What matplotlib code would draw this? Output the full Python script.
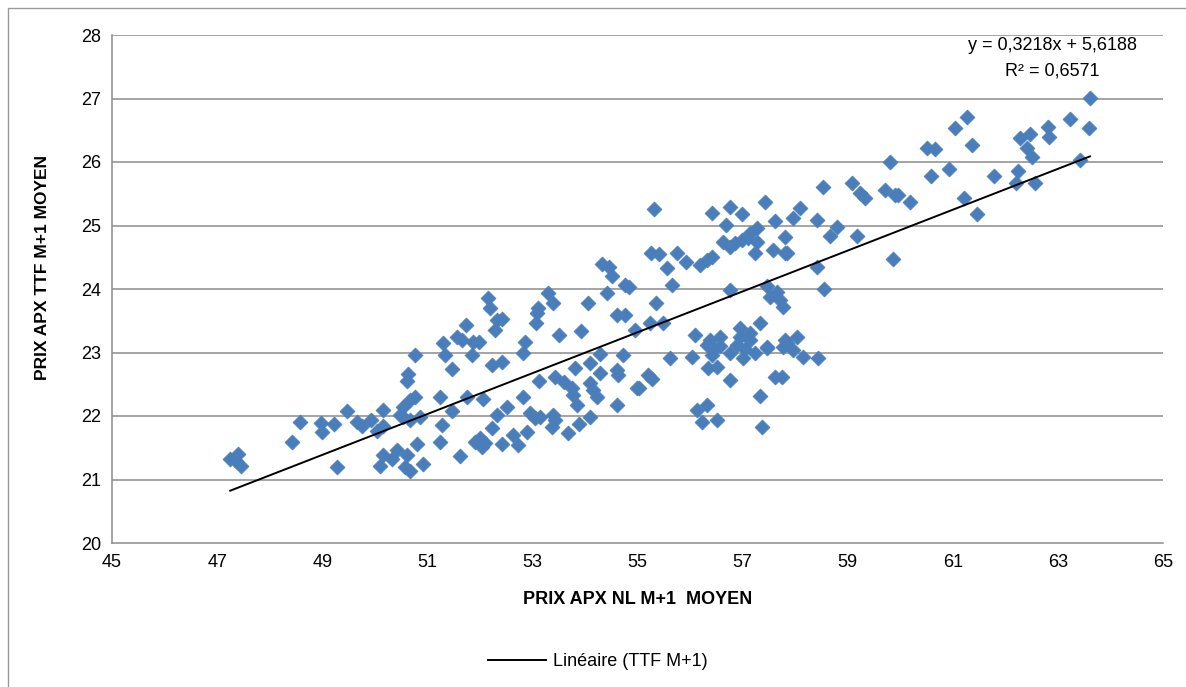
import numpy as np
import matplotlib.pyplot as plt
from matplotlib.lines import Line2D
from matplotlib.patches import Rectangle

import matplotlib as mpl
mpl.rcParams['font.family'] = ['Liberation Sans', 'DejaVu Sans']

# PRIX APX NL M+1 MOYEN (x) / PRIX APX TTF M+1 MOYEN (y)
apx_nl = [
	47.25, 47.35, 47.40, 47.45, 48.43, 48.58, 48.98, 49.00, 49.22, 49.28, 49.47,
	49.66, 49.76, 49.93, 50.04, 50.16, 50.16, 50.16, 50.10, 50.33, 50.42, 50.61,
	50.58, 50.67, 50.80, 50.92, 50.54, 50.67, 50.77, 50.54, 50.86, 50.67, 50.61,
	50.63, 50.77, 50.48,
	52.15, 52.19, 52.33, 52.42, 52.29, 51.74, 51.57, 51.66, 51.30, 51.34, 51.87,
	51.98, 51.85, 51.47, 52.23, 52.42, 52.82, 52.86, 53.09, 53.11, 53.30, 53.39,
	53.07, 53.51, 53.92, 54.06, 54.42, 54.76, 54.84, 54.61, 54.76, 54.95, 54.29,
	54.72, 54.61, 54.63, 54.99, 53.81, 54.10, 54.29, 53.13, 53.43, 53.60, 53.75,
	53.77, 53.85, 54.10, 54.15, 54.23, 54.10, 53.89, 54.61, 53.68, 53.39, 53.37,
	53.43, 52.95, 53.05, 53.14, 52.90, 52.82, 52.52, 52.33, 51.76, 52.06, 51.24,
	51.47, 51.28, 51.24, 51.91, 52.00, 52.10, 52.04, 52.23, 52.42, 52.63, 52.73,
	51.62, 54.32, 54.45, 54.51,
	55.31, 56.42, 56.76, 56.99, 57.43, 57.62, 57.81, 56.68, 55.26, 55.41, 55.75,
	55.92, 55.56, 55.66, 56.19, 56.32, 56.42, 56.63, 56.76, 56.86, 56.99, 57.14,
	57.27, 57.10, 57.27, 57.24, 57.58, 57.81, 56.76, 57.46, 57.65, 57.71, 57.77,
	57.52, 55.35, 55.24, 55.49, 56.09, 56.38, 56.57, 56.95, 57.14, 57.33, 57.46,
	57.81, 55.62, 56.04, 56.32, 56.42, 56.34, 56.51, 56.76, 56.89, 57.01, 57.24,
	57.46, 57.77, 56.76, 55.20, 55.28, 55.03, 56.13, 56.32, 56.23, 56.51, 57.33,
	57.37, 57.62, 57.75, 56.57, 56.95, 57.05, 57.15, 56.45,
	59.80, 58.53, 59.08, 59.23, 59.33, 59.71, 59.90, 58.09, 57.96, 58.42, 58.80,
	58.66, 59.18, 57.85, 58.42, 59.86, 58.55, 57.85, 58.04, 57.96, 58.15, 58.43,
	63.61, 63.23, 63.59, 61.27, 61.04, 61.36, 60.51, 60.66, 62.81, 62.83, 62.28,
	62.47, 62.41, 62.51, 63.42, 60.59, 60.93, 61.78, 62.24, 62.20, 62.56, 59.95,
	60.19, 61.21, 61.46,
]
ttf = [
	21.33, 21.30, 21.40, 21.22, 21.59, 21.90, 21.89, 21.75, 21.87, 21.19, 22.08,
	21.90, 21.84, 21.94, 21.76, 21.84, 22.09, 21.38, 21.21, 21.33, 21.47, 21.38,
	21.19, 21.14, 21.56, 21.25, 22.14, 22.25, 22.30, 21.98, 21.98, 21.94, 22.55,
	22.66, 22.96, 22.02,
	23.86, 23.70, 23.51, 23.53, 23.35, 23.43, 23.24, 23.20, 23.15, 22.96, 23.17,
	23.17, 22.96, 22.74, 22.80, 22.85, 22.99, 23.17, 23.62, 23.70, 23.94, 23.78,
	23.46, 23.28, 23.34, 23.78, 23.94, 24.06, 24.03, 23.59, 23.59, 23.35, 22.98,
	22.96, 22.72, 22.65, 22.44, 22.76, 22.83, 22.68, 22.55, 22.61, 22.53, 22.44,
	22.33, 22.17, 22.52, 22.41, 22.30, 21.98, 21.87, 22.17, 21.73, 22.02, 21.83,
	21.94, 22.05, 21.97, 21.98, 21.75, 22.30, 22.14, 22.02, 22.30, 22.27, 22.30,
	22.08, 21.86, 21.59, 21.59, 21.65, 21.57, 21.51, 21.81, 21.56, 21.70, 21.54,
	21.37, 24.39, 24.34, 24.20,
	25.26, 25.20, 25.29, 25.18, 25.37, 25.07, 24.82, 25.01, 24.57, 24.55, 24.57,
	24.43, 24.33, 24.06, 24.38, 24.46, 24.50, 24.74, 24.66, 24.72, 24.77, 24.88,
	24.96, 24.80, 24.74, 24.57, 24.61, 24.57, 23.98, 24.05, 23.95, 23.83, 23.72,
	23.87, 23.78, 23.46, 23.46, 23.28, 23.20, 23.24, 23.39, 23.31, 23.46, 23.09,
	23.20, 22.91, 22.93, 23.12, 22.96, 22.76, 22.77, 22.99, 23.12, 22.91, 22.99,
	23.07, 23.09, 22.57, 22.65, 22.58, 22.44, 22.09, 22.17, 21.91, 21.94, 22.31,
	21.83, 22.61, 22.61, 23.10, 23.25, 23.05, 23.20, 23.05,
	26.00, 25.61, 25.67, 25.51, 25.43, 25.56, 25.48, 25.28, 25.12, 25.09, 24.98,
	24.83, 24.83, 24.57, 24.35, 24.47, 24.00, 23.15, 23.24, 23.04, 22.93, 22.91,
	27.01, 26.68, 26.53, 26.71, 26.54, 26.27, 26.22, 26.20, 26.55, 26.39, 26.38,
	26.44, 26.22, 26.08, 26.03, 25.78, 25.89, 25.78, 25.86, 25.67, 25.67, 25.48,
	25.37, 25.43, 25.18,
]

# linear trendline as given on the chart
slope, intercept = 0.3218, 5.6188

x_ticks = [45, 47, 49, 51, 53, 55, 57, 59, 61, 63, 65]
y_ticks = [20, 21, 22, 23, 24, 25, 26, 27, 28]

fig = plt.figure(figsize=(11.86, 6.87), dpi=100)
fig.patches.append(Rectangle((8 / 1186, -0.01), 1.02, 1 - 8 / 687 + 0.01,
	transform=fig.transFigure, fill=False, edgecolor='#9a9a9a', linewidth=1))

ax = fig.add_axes([112 / 1186, 1 - 543 / 687, (1163 - 112) / 1186, (543 - 35) / 687])

for v in y_ticks[1:]:
	ax.axhline(v, color='#8c8c8c', linewidth=1.1, zorder=1)

ax.scatter(apx_nl, ttf, marker='D', s=58, color='#4A7EBB', edgecolors='#4A7EBB',
	linewidths=0.5, zorder=3)

xs = np.array([min(apx_nl), max(apx_nl)])
ax.plot(xs, slope * xs + intercept, color='black', linewidth=1.4, zorder=4)

ax.set_xlim(45, 65)
ax.set_ylim(20, 28)
ax.set_xticks(x_ticks)
ax.set_yticks(y_ticks)
ax.tick_params(labelsize=13, length=0, pad=8)
for s in ['top', 'right']:
	ax.spines[s].set_visible(False)
for s in ['left', 'bottom']:
	ax.spines[s].set_color('#8c8c8c')
	ax.spines[s].set_linewidth(1.1)

ax.set_xlabel('PRIX APX NL M+1  MOYEN', fontsize=13, fontweight='bold', labelpad=14)
fig.text(43 / 1186, 1 - 267 / 687, 'PRIX APX TTF M+1 MOYEN', rotation=90,
	ha='center', va='center', fontsize=12.5, fontweight='bold')

fig.text(1052 / 1186, 1 - 45 / 687, 'y = 0,3218x + 5,6188', ha='center', va='center', fontsize=13)
fig.text(1052 / 1186, 1 - 71 / 687, 'R² = 0,6571', ha='center', va='center', fontsize=13)

handle = Line2D([], [], color='black', linewidth=1.4)
fig.legend([handle], ['Linéaire (TTF M+1)'], loc='center', bbox_to_anchor=(598 / 1186, 1 - 662 / 687),
	frameon=False, fontsize=13, handlelength=3.2, handletextpad=0.4)

plt.savefig('out.png', dpi=100)
plt.close()
